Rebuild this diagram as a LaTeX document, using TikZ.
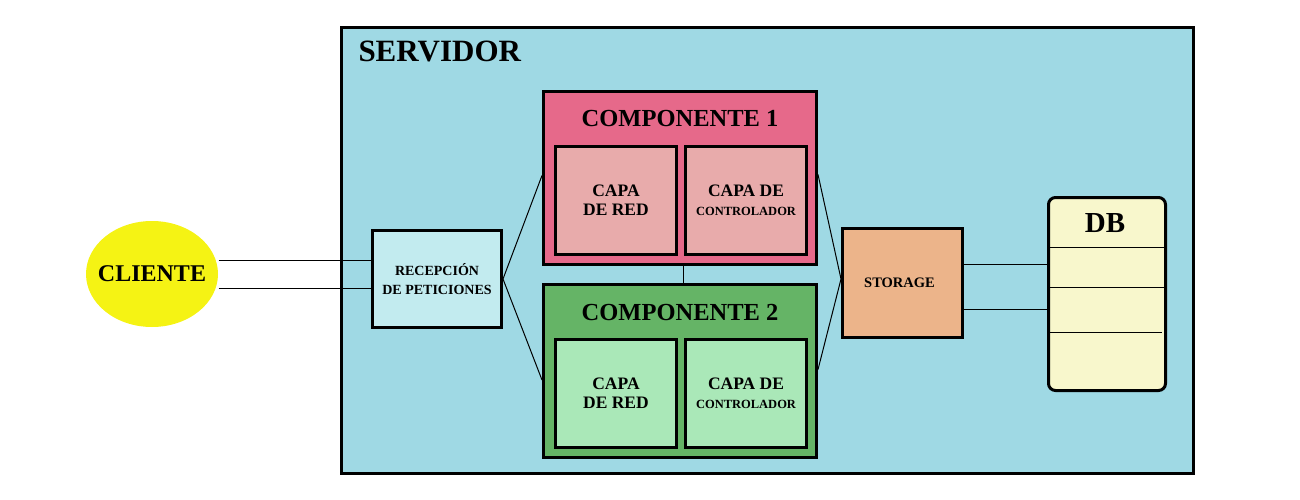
\documentclass[tikz,border=0pt]{standalone}
\usepackage{fontspec}
\setmainfont{Liberation Serif}
\usetikzlibrary{shapes.geometric}

\definecolor{servidorazul}{HTML}{9FD9E4}
\definecolor{comprosa}{HTML}{E6698A}
\definecolor{caparosa}{HTML}{E8ABAB}
\definecolor{compverde}{HTML}{65B466}
\definecolor{capaverde}{HTML}{AAE8B8}
\definecolor{recepazul}{HTML}{C2EBEF}
\definecolor{storagenaranja}{HTML}{ECB48A}
\definecolor{dbamarillo}{HTML}{F8F7CC}
\definecolor{clienteamarillo}{HTML}{F5F314}

\tikzset{every picture/.style={line width=1pt}}

\begin{document}
\begin{tikzpicture}[x=1pt,y=1pt,yscale=-1,xscale=1,
  caja/.style={draw, line width=3pt, inner sep=0pt, anchor=north west, align=center},
  titulo/.style={inner sep=0pt, anchor=base, font={\fontsize{24.5}{28}\selectfont\bfseries}},
  capa/.style={caja, minimum width=121, minimum height=108, font={\fontsize{17.5}{19}\selectfont\bfseries}},
  enlace/.style={line width=1pt}]
  \useasboundingbox (0,0) rectangle (1300,500);

  % Servidor
  \node[caja, fill=servidorazul, minimum width=852, minimum height=446] (servidor) at (340,26) {};
  \node[inner sep=0pt, anchor=base west, font={\fontsize{31}{36}\selectfont\bfseries}] (servidortxt) at (358,62) {SERVIDOR};

  % Componente 1
  \node[caja, fill=comprosa, minimum width=273, minimum height=173] (comp1) at (542,90) {};
  \node[titulo] (comp1txt) at (680,127) {COMPONENTE 1};
  \node[capa, fill=caparosa] (red1) at (554,145) {CAPA\\DE RED};
  \node[capa, fill=caparosa] (ctrl1) at (684,145) {CAPA DE\\{\fontsize{12.5}{19}\selectfont CONTROLADOR}};

  % Componente 2
  \node[caja, fill=compverde, minimum width=273, minimum height=173] (comp2) at (542,283) {};
  \node[titulo] (comp2txt) at (680,320) {COMPONENTE 2};
  \node[capa, fill=capaverde] (red2) at (554,338) {CAPA\\DE RED};
  \node[capa, fill=capaverde] (ctrl2) at (684,338) {CAPA DE\\{\fontsize{12.5}{19}\selectfont CONTROLADOR}};

  % Recepcion, storage, DB
  \node[caja, fill=recepazul, minimum width=129, minimum height=97, font={\fontsize{14}{19}\selectfont\bfseries}] (recepcion) at (371,229) {RECEPCIÓN\\DE PETICIONES};
  \node[caja, fill=storagenaranja, minimum width=120, minimum height=109, font={\fontsize{14.5}{17}\selectfont\bfseries}] (storage) at (841,227) {STORAGE\hspace{6pt}};
  \node[caja, fill=dbamarillo, rounded corners=7pt, minimum width=117, minimum height=193] (db) at (1047,196) {};
  \node[inner sep=0pt, anchor=base, font={\fontsize{29}{34}\selectfont\bfseries}] (dbtxt) at (1105,232) {DB};
  \draw (1047,247) -- (1164,247);
  \draw (1047,287) -- (1166,287);
  \draw (1047,332) -- (1162,332);

  % Cliente
  \node[ellipse, fill=clienteamarillo, minimum width=132, minimum height=106] (cliente) at (152,274) {};
  \node[inner sep=0pt, font={\fontsize{24}{28}\selectfont\bfseries}] (clientetxt) at (cliente) {CLIENTE};

  % Enlaces
  \path ([yshift=-14pt]cliente.east) coordinate (cli1) ([yshift=14pt]cliente.east) coordinate (cli2);
  \draw[enlace] (cli1) -- (cli1 -| recepcion.west);
  \draw[enlace] (cli2) -- (cli2 -| recepcion.west);
  \draw[enlace] (recepcion.east) -- ([yshift=-2.5pt]comp1.west);
  \draw[enlace] (recepcion.east) -- ([yshift=9pt]comp2.west);
  \draw[enlace] ([xshift=3pt]comp1.south) -- ([xshift=3pt]comp2.north);
  \draw[enlace] ([yshift=-3.5pt]comp1.east) -- ([yshift=-4pt]storage.west);
  \draw[enlace] ([yshift=-1.5pt]comp2.east) -- ([yshift=-4pt]storage.west);
  \path ([yshift=-18.5pt]storage.east) coordinate (sto1) ([yshift=26.5pt]storage.east) coordinate (sto2);
  \draw[enlace] (sto1) -- (sto1 -| db.west);
  \draw[enlace] (sto2) -- ([xshift=3pt]sto2 -| db.west);
\end{tikzpicture}
\end{document}
